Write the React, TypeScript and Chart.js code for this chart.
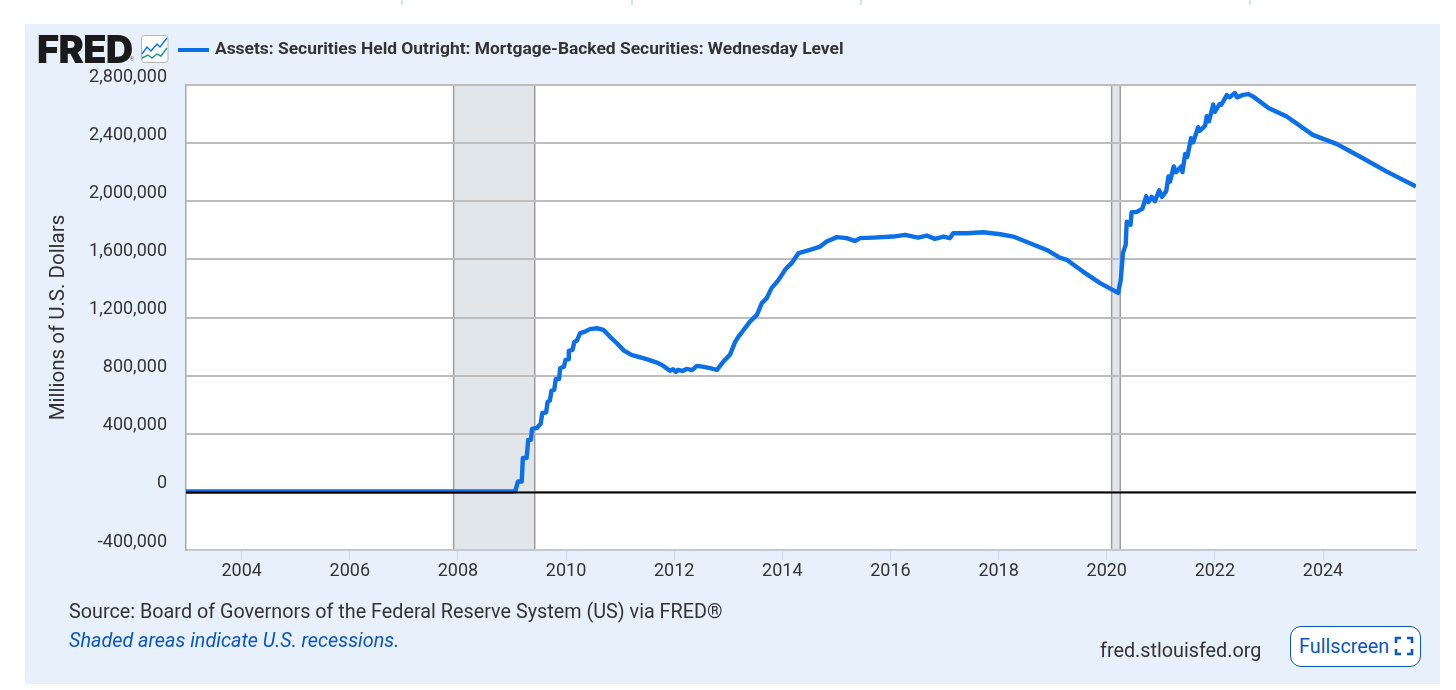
import React, { useEffect, useRef } from "react";
import { Chart, registerables } from "chart.js";

Chart.register(...registerables);

const seriesName = "Assets: Securities Held Outright: Mortgage-Backed Securities: Wednesday Level";
const axisTitle = "Millions of U.S. Dollars";
const yearTicks = [2004, 2006, 2008, 2010, 2012, 2014, 2016, 2018, 2020, 2022, 2024];
const recessionStarts = [2007.92, 2020.09];
const recessionEnds = [2009.42, 2020.25];

const years = [
  2002.97, 2005, 2007, 2009.0, 2009.06, 2009.11, 2009.18, 2009.2, 2009.27, 2009.3, 2009.35, 2009.37, 2009.46, 2009.53,
  2009.56, 2009.63, 2009.66, 2009.7, 2009.73, 2009.78, 2009.81, 2009.87, 2009.89, 2009.96, 2009.99, 2010.04, 2010.05,
  2010.12, 2010.15, 2010.2, 2010.26, 2010.35, 2010.44, 2010.57, 2010.69, 2010.81, 2010.94, 2011.07, 2011.21, 2011.49,
  2011.68, 2011.8, 2011.92, 2011.98, 2012.03, 2012.07, 2012.15, 2012.23, 2012.33, 2012.42, 2012.55, 2012.66, 2012.79,
  2012.91, 2013.03, 2013.13, 2013.19, 2013.31, 2013.4, 2013.53, 2013.62, 2013.71, 2013.8, 2013.93, 2014.05, 2014.17,
  2014.3, 2014.51, 2014.7, 2014.82, 2015.01, 2015.19, 2015.34, 2015.44, 2015.68, 2016.05, 2016.27, 2016.51, 2016.67,
  2016.82, 2016.98, 2017.1, 2017.16, 2017.41, 2017.72, 2018.03, 2018.27, 2018.58, 2018.89, 2019.13, 2019.26, 2019.56,
  2019.87, 2020.21, 2020.26, 2020.3, 2020.35, 2020.37, 2020.44, 2020.46, 2020.55, 2020.66, 2020.73, 2020.77, 2020.83,
  2020.89, 2020.97, 2021.02, 2021.1, 2021.14, 2021.17, 2021.24, 2021.28, 2021.38, 2021.4, 2021.45, 2021.49, 2021.56,
  2021.6, 2021.69, 2021.72, 2021.82, 2021.85, 2021.89, 2021.97, 2022.0, 2022.09, 2022.12, 2022.22, 2022.27, 2022.37,
  2022.41, 2022.52, 2022.62, 2022.71, 2023.0, 2023.33, 2023.81, 2024.25, 2024.68, 2025.18, 2025.72,
];
const values = [
  3000, 3000, 3000, 3000, 5000, 71000, 71000, 233000, 233000, 358000, 358000, 433000, 440000, 468000, 543000, 546000,
  621000, 628000, 697000, 702000, 777000, 777000, 851000, 862000, 908000, 913000, 970000, 977000, 1030000, 1041000,
  1092000, 1103000, 1120000, 1126000, 1115000, 1069000, 1023000, 972000, 943000, 913000, 890000, 867000, 833000,
  844000, 825000, 840000, 832000, 846000, 838000, 867000, 860000, 851000, 840000, 897000, 943000, 1034000, 1069000,
  1127000, 1172000, 1218000, 1299000, 1333000, 1402000, 1459000, 1528000, 1574000, 1643000, 1665000, 1688000, 1723000,
  1753000, 1746000, 1727000, 1746000, 1750000, 1757000, 1769000, 1750000, 1764000, 1741000, 1757000, 1746000, 1780000,
  1780000, 1787000, 1773000, 1757000, 1711000, 1665000, 1612000, 1597000, 1516000, 1438000, 1369000, 1459000, 1645000,
  1700000, 1860000, 1838000, 1925000, 1925000, 1950000, 2035000, 1995000, 2030000, 2000000, 2075000, 2030000, 2070000,
  2170000, 2135000, 2240000, 2200000, 2240000, 2200000, 2325000, 2305000, 2435000, 2405000, 2510000, 2485000, 2520000,
  2585000, 2550000, 2665000, 2615000, 2670000, 2665000, 2730000, 2715000, 2745000, 2715000, 2732000, 2737000, 2720000,
  2640000, 2583000, 2457000, 2395000, 2308000, 2204000, 2101000,
];

const ZERO_LINE = 0;

const shadePlugin = {
  id: "fredShade",
  beforeDraw(chart: any) {
    const { ctx, chartArea: a, scales } = chart;
    ctx.save();
    ctx.fillStyle = "#ffffff";
    ctx.fillRect(a.left, a.top, a.right - a.left, a.bottom - a.top);
    recessionStarts.forEach((s, i) => {
      const x0 = scales.x.getPixelForValue(s);
      const x1 = scales.x.getPixelForValue(recessionEnds[i]);
      ctx.fillStyle = "#e1e6eb";
      ctx.fillRect(x0, a.top, x1 - x0, a.bottom - a.top);
      ctx.strokeStyle = "#9d9d9d";
      ctx.lineWidth = 1.5;
      [x0, x1].forEach((x) => {
        ctx.beginPath();
        ctx.moveTo(x, a.top);
        ctx.lineTo(x, a.bottom);
        ctx.stroke();
      });
    });
    ctx.restore();
  },
  afterDatasetsDraw(chart: any) {
    const { ctx, chartArea: a, scales } = chart;
    const y = scales.y.getPixelForValue(ZERO_LINE) + 0.5;
    ctx.save();
    ctx.strokeStyle = "#000000";
    ctx.lineWidth = 2;
    ctx.beginPath();
    ctx.moveTo(a.left, y);
    ctx.lineTo(a.right, y);
    ctx.stroke();
    ctx.restore();
  },
};

const text: React.CSSProperties = {
  position: "absolute",
  fontFamily: "Roboto, sans-serif",
  fontSize: 19.8,
  lineHeight: "22px",
  color: "#333333",
  whiteSpace: "nowrap",
};

export default function App() {
  const ref = useRef<HTMLCanvasElement>(null);
  useEffect(() => {
    const chart = new Chart(ref.current as HTMLCanvasElement, {
      type: "line",
      data: {
        datasets: [
          {
            label: seriesName,
            data: years.map((x, i) => ({ x, y: values[i] })),
            borderColor: "#0b6fe8",
            borderWidth: 4.4,
            pointRadius: 0,
            tension: 0,
            fill: false,
            borderJoinStyle: "round",
          },
        ],
      },
      options: {
        responsive: false,
        animation: false,
        layout: { padding: { top: 85, right: 40, bottom: 0, left: 0 } },
        plugins: { legend: { display: false }, tooltip: { enabled: false } },
        scales: {
          x: {
            type: "linear",
            min: 2002.97,
            max: 2025.72,
            afterFit: (s: any) => { s.height = 140; },
            afterBuildTicks: (s: any) => { s.ticks = yearTicks.map((value) => ({ value })); },
            grid: { drawOnChartArea: false, drawTicks: true, tickColor: "#ccd6eb", tickWidth: 1, tickLength: 10 },
            border: { display: true, color: "#c3c7d3", width: 2 },
            ticks: {
              autoSkip: false,
              maxRotation: 0,
              padding: 1,
              color: "#333333",
              font: { family: "Roboto", size: 18 },
              callback: (v: any) => String(v),
            },
          },
          y: {
            min: -400000,
            max: 2800000,
            afterFit: (s: any) => { s.width = 186; },
            title: {
              display: true,
              text: axisTitle,
              color: "#333333",
              font: { family: "Roboto", size: 20.5 },
              padding: { top: 47, bottom: 0 },
            },
            grid: { color: "#bdbdbd", lineWidth: 2, drawTicks: false },
            border: { display: true, color: "#a8a8a8", width: 1.5 },
            ticks: {
              stepSize: 400000,
              padding: 19,
              labelOffset: -8,
              color: "#333333",
              font: { family: "Roboto", size: 18 },
              callback: (v: any) => Number(v).toLocaleString("en-US"),
            },
          },
        },
      },
      plugins: [shadePlugin],
    } as any);
    return () => chart.destroy();
  }, []);

  return (
    <div style={{ position: "absolute", left: 0, top: 0, width: 1456, height: 690, background: "#ffffff", overflow: "hidden" }}>
      {[401, 631, 860, 1249].map((x) => (
        <div key={x} style={{ position: "absolute", left: x, top: 0, width: 2, height: 5, background: "#cfe6e8" }} />
      ))}
      <div style={{ position: "absolute", left: 25, top: 24, width: 1415, height: 660, background: "#e8f1fb" }} />
      <canvas ref={ref} width={1456} height={690} style={{ position: "absolute", left: 0, top: 0, width: 1456, height: 690 }} />

      <div style={{ ...text, left: 37, top: 28, fontFamily: "Inter, sans-serif", fontWeight: 900, fontSize: 38, lineHeight: "42px", letterSpacing: -0.7, color: "#1a1a1a" }}>FRED</div>
      <div style={{ ...text, left: 130, top: 56, fontSize: 5, lineHeight: "6px", color: "#555555" }}>®</div>
      <svg style={{ position: "absolute", left: 141, top: 35 }} width={28} height={28} viewBox="0 0 28 28">
        <rect x={0.5} y={0.5} width={26.5} height={27} rx={3} fill="#ffffff" stroke="#b5b5b5" />
        <polyline points="1,19 6,12 10,16 16,9 19,12 26,3" fill="none" stroke="#0b6fe8" strokeWidth={1.4} />
        <polyline points="1,23 7,20 11,23 16,19 20,21 26,13" fill="none" stroke="#1c9a87" strokeWidth={1.4} />
      </svg>
      <div style={{ position: "absolute", left: 178, top: 48, width: 31, height: 4, background: "#0b6fe8" }} />
      <div style={{ ...text, left: 215, top: 37, fontSize: 17.4, fontWeight: 700 }}>{seriesName}</div>

      <div style={{ ...text, left: 69, top: 601 }}>Source: Board of Governors of the Federal Reserve System (US) via FRED®</div>
      <div style={{ ...text, left: 69, top: 630, fontStyle: "italic", color: "#0a56c2" }}>Shaded areas indicate U.S. recessions.</div>
      <div style={{ ...text, left: 1100, top: 640 }}>fred.stlouisfed.org</div>
      <div style={{ ...text, boxSizing: "border-box", left: 1290, top: 626, width: 131, height: 41, border: "1.5px solid #0a56c2", borderRadius: 11, background: "#ffffff" }} />
      <div style={{ ...text, left: 1299, top: 636, color: "#0a56c2" }}>Fullscreen</div>
      <svg style={{ position: "absolute", left: 1394, top: 636 }} width={20} height={20} viewBox="0 0 20 20">
        <path d="M2 7V2H7M13 2H18V7M18 13V18H13M7 18H2V13" fill="none" stroke="#0a56c2" strokeWidth={2.6} />
      </svg>
    </div>
  );
}
